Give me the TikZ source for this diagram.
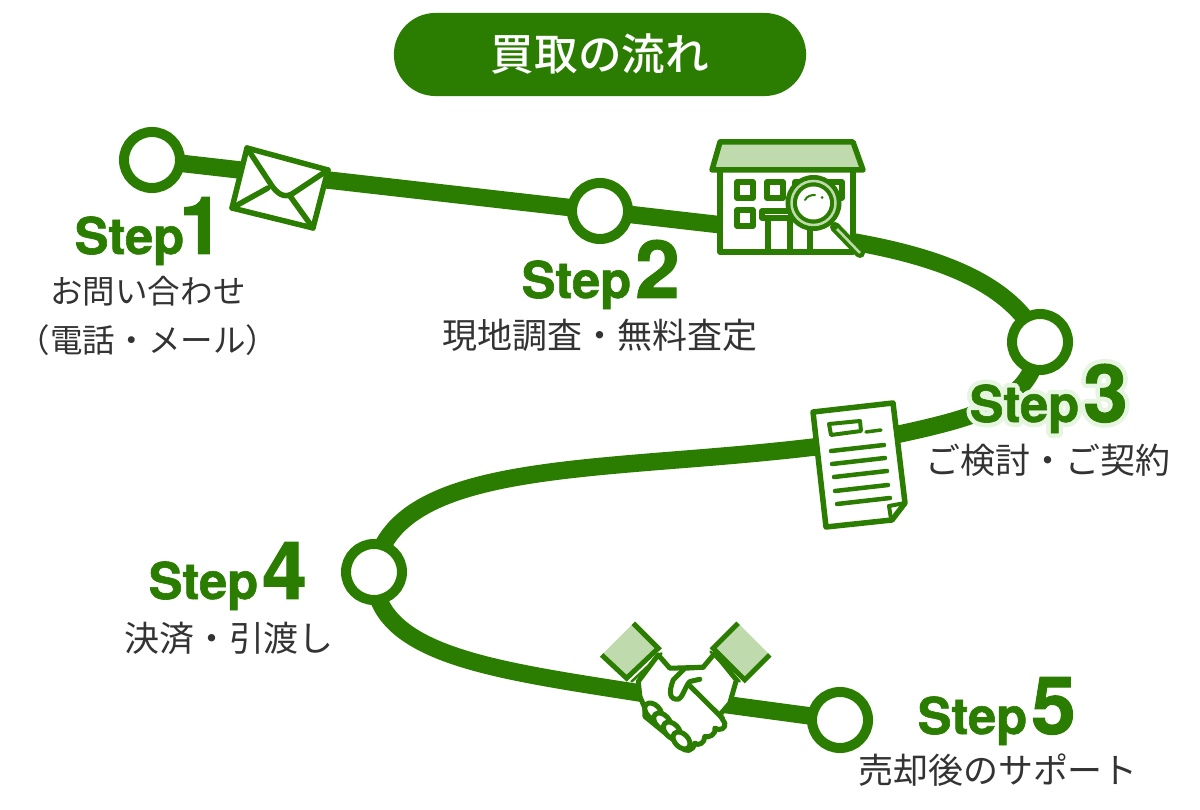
\documentclass[tikz,border=0pt]{standalone}
\usepackage{fontspec}
\usepackage{contour}
\usetikzlibrary{backgrounds}
\setmainfont{TeX Gyre Heros}[BoldFeatures={FakeBold=1.2}]
\newfontfamily\jpfont{Noto Sans CJK JP}
\newfontfamily\jptitle{Noto Sans CJK JP Medium}
\definecolor{stepgreen}{HTML}{2A7D00}
\definecolor{stepleaf}{HTML}{BFDBAE}
\definecolor{stephalo}{HTML}{E6F5E0}
\definecolor{steptext}{HTML}{333333}
\contourlength{0.045cm}
\newcommand{\stepmark}[2][0.04cm]{{\fontsize{14.4pt}{16pt}\bfseries Step}\hspace{#1}{\fontsize{22.8pt}{24pt}\bfseries #2}}
\tikzset{
	track/.style={draw=stepgreen,line width=0.175cm},
	station/.style={circle,draw=stepgreen,fill=white,line width=0.1cm,minimum size=0.56cm,inner sep=0pt},
	steplabel/.style={anchor=base west,inner sep=0pt,text=stepgreen},
	jplabel/.style={inner sep=0pt,text=steptext,font=\jpfont\fontsize{9.95pt}{11pt}\selectfont},
	jpsmall/.style={jplabel,font=\jpfont\fontsize{9.25pt}{11pt}\selectfont},
	iconline/.style={draw=stepgreen,line width=0.055cm,line join=round,line cap=round},
}
\begin{document}
\begin{tikzpicture}[x=0.01cm,y=-0.01cm]
\useasboundingbox (0,0) rectangle (1200,810);

\node (title) [fill=stepgreen,rounded corners=0.415cm,minimum width=4.12cm,minimum height=0.83cm,text=white,
	font=\jptitle\fontsize{12.4pt}{14pt}\selectfont] at (600,54.5) {買取の流れ};

\node (st1) [station] at (152,160) {};
\node (st2) [station] at (600,211) {};
\node (st3) [station] at (1040,342) {};
\node (st4) [station] at (374,572) {};
\node (st5) [station] at (840,720) {};

\begin{pgfonlayer}{background}
\draw [track] (st1.center) -- (st2.center);
\draw [track] (st2.center) -- (722,225) .. controls (870,240) and (1000,258) .. (st3.center);
\draw [track] (st3.center) .. controls (1032,400) and (990,415) .. (890,436)
	.. controls (650,478) and (395,445) .. (st4.center);
\draw [track] (st4.center) .. controls (372,655) and (495,670) .. (640,693) -- (st5.center);
\end{pgfonlayer}

% envelope
\filldraw [iconline,fill=white] (247,148) -- (328,170) -- (313,228) -- (232,208) -- cycle;
\draw [iconline] (247,148) -- (272,186) .. controls (280,197) and (287,198) .. (295,192) -- (328,170);
\draw [iconline] (232,208) -- (268,188);
\draw [iconline] (313,228) -- (290,196);

% house
\filldraw [iconline,fill=white] (720,170) -- (720,252) -- (853,252) -- (853,170);
\filldraw [iconline,fill=stepleaf] (720,142) -- (853,142) -- (863,170) -- (712,170) -- cycle;
\foreach \x/\y in {737/182,767/182,737/210} {
	\draw [iconline] (\x,\y) rectangle (\x+16,\y+16);
}
\draw [iconline] (795,182) rectangle (842,198);
\draw [iconline] (762,211) rectangle (805,218);
\foreach \x in {768,790,810} {
	\draw [iconline] (\x,218) -- (\x,252);
}
\draw [line width=0.1cm,draw=stepgreen,line cap=round] (835,227) -- (860,253);
\draw [line width=0.025cm,draw=stepleaf] (837,229) -- (860,253);
\fill [stepgreen] (813.5,203) circle (28);
\draw [draw=stepleaf,line width=0.025cm] (813.5,203) circle (22);
\fill [white] (813.5,203) circle (16.5);
\draw [draw=stepgreen,line width=0.02cm,line cap=round] (805,200) .. controls (807,196) and (811,195) .. (815,195);
\fill [stepgreen] (822,197.5) circle (1.5);

% document
\filldraw [iconline,fill=white] (813,412) -- (893,403) -- (905,503) -- (892,520) -- (826,527) -- cycle;
\draw [iconline,line width=0.04cm] (889,506) -- (905,503);
\draw [iconline,line width=0.04cm] (889,506) -- (891,519);
\draw [iconline,line width=0.04cm] (829,424) -- (860,421) -- (861,431) -- (831,435) -- cycle;
\draw [iconline,line width=0.035cm] (866,432) -- (881,430);
\foreach \x/\y in {831/451,832/464,834/477,835/491,837/504} {
	\draw [iconline,line width=0.045cm] (\x,\y) -- (\x+53,\y-6);
}

% handshake
\begin{scope}[shift={(590,610)},x=0.00333cm,y=-0.00333cm]
\fill [stepleaf] (130,40) -- (205,115) -- (110,205) -- (35,135) -- cycle;
\fill [stepleaf] (445,40) -- (540,135) -- (465,210) -- (370,115) -- cycle;
\filldraw [iconline,fill=white,line width=0.05cm] (205,135) -- (240,175) -- (340,172) -- (375,130) -- (440,210)
	-- (420,280) -- (390,315) -- (405,340) .. controls (410,355) and (390,365) .. (375,355)
	.. controls (380,375) and (355,385) .. (345,380) .. controls (345,400) and (325,410) .. (315,400)
	.. controls (310,425) and (285,430) .. (275,410) -- (165,320) -- (165,295) -- (150,260) -- (145,215) -- cycle;
\foreach \x/\y in {190/305,217/335,246/362,275/392} {
	\filldraw [iconline,fill=white,line width=0.05cm,rotate around={-45:(\x,\y)}] (\x,\y) ellipse (30 and 20);
}
\draw [iconline,line width=0.05cm] (300,228) -- (398,325);
\filldraw [iconline,fill=white,line width=0.05cm] (340,172) -- (285,175) -- (250,210) .. controls (235,250) and (240,270) .. (265,268)
	.. controls (280,262) and (285,230) .. (300,215) -- (330,208);
\draw [draw=stepgreen,line width=0.05cm] (130,40) -- (205,115) -- (110,205) -- (35,135);
\draw [draw=stepgreen,line width=0.05cm] (445,40) -- (370,115) -- (465,210) -- (540,135);
\draw [iconline,line width=0.025cm] (215,130) -- (125,215);
\draw [iconline,line width=0.025cm] (362,125) -- (450,215);
\end{scope}

% labels
\node (lab1) [steplabel] at (74,254) {\stepmark[-0.05cm]{1}};
\node (lab2) [steplabel] at (521,298) {\stepmark{2}};
\node (lab3) [steplabel] at (969,422) {\contour{stephalo}{\stepmark{3}}};
\node (lab4) [steplabel] at (148,599) {\stepmark{4}};
\node (lab5) [steplabel] at (917,734) {\stepmark{5}};

\node (txt1a) [jpsmall] at (148,291) {お問い合わせ};
\node (txt1b) [jpsmall] at (148,340) {（電話・メール）};
\node (txt2) [jplabel] at (600,335) {現地調査・無料査定};
\node (txt3) [jplabel] at (1048,460) {ご検討・ご契約};
\node (txt4) [jplabel] at (229,638) {決済・引渡し};
\node (txt5) [jplabel] at (998,770) {売却後のサポート};

\end{tikzpicture}
\end{document}
